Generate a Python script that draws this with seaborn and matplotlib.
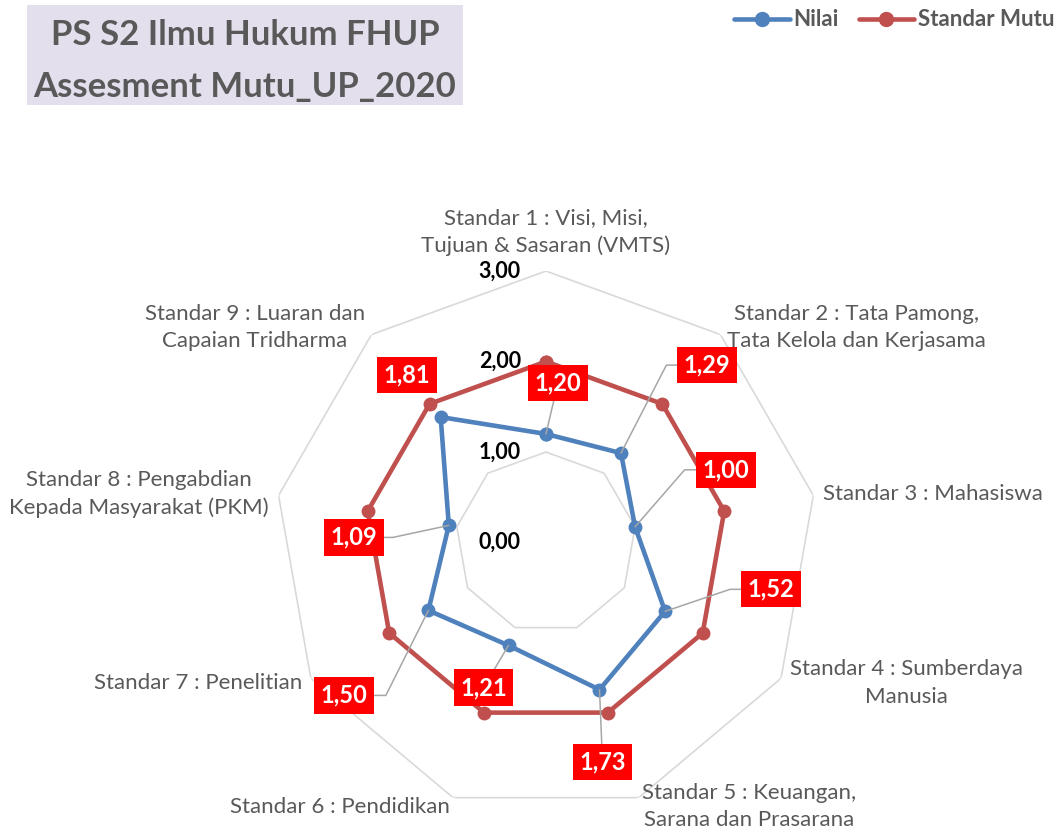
import numpy as np
import pandas as pd
import matplotlib.pyplot as plt
import seaborn as sns
from matplotlib.lines import Line2D
from matplotlib.patches import Rectangle

# ── Data ─────────────────────────────────────────────────────────────
categories = [
    "Standar 1 : Visi, Misi,\nTujuan & Sasaran (VMTS)",
    "Standar 2 : Tata Pamong,\nTata Kelola dan Kerjasama",
    "Standar 3 : Mahasiswa",
    "Standar 4 : Sumberdaya\nManusia",
    "Standar 5 : Keuangan,\nSarana dan Prasarana",
    "Standar 6 : Pendidikan",
    "Standar 7 : Penelitian",
    "Standar 8 : Pengabdian\nKepada Masyarakat (PKM)",
    "Standar 9 : Luaran dan\nCapaian Tridharma",
]
nilai = [1.20, 1.29, 1.00, 1.52, 1.73, 1.21, 1.50, 1.09, 1.81]
standar_mutu = [2.00, 2.00, 2.00, 2.00, 2.00, 2.00, 2.00, 2.00, 2.00]
ring_values = [0, 1, 2, 3]
ring_labels = ["0,00", "1,00", "2,00", "3,00"]
title = "PS S2 Ilmu Hukum FHUP\nAssesment Mutu_UP_2020"

# data label placement (pixel offset of the box from its point, leader bend angle)
label_offsets = [(12, 51), (86, 88), (91, 57), (106, 22), (3, -72),
                 (-25, -42), (-84, -85), (-95, -12), (-34, 42)]
leader_bend = [None, 62.7, 49, 18.7, None, None, -116.6, -167.9, None]
show_leader = [True, True, True, True, True, True, True, True, False]

BLUE = '#4F81BD'
RED = '#C0504D'
GREY_TXT = '#595959'

sns.set_theme(style='white')
plt.rcParams['font.family'] = ['Lato', 'DejaVu Sans']

fig = plt.figure(figsize=(10.56, 8.32), dpi=100)
ax = fig.add_axes([0.2599, 0.0216, 0.5142, 0.6526], projection='polar')
ax.set_theta_zero_location('N')
ax.set_theta_direction(-1)
ax.set_ylim(0, 3)
ax.set_xticks([])
ax.set_yticks([])
ax.grid(False)
ax.spines['polar'].set_visible(False)
ax.patch.set_alpha(0)

n = len(categories)
theta = np.arange(n) * 2 * np.pi / n
theta_c = np.append(theta, 2 * np.pi)

# polygon gridlines
for r in ring_values[1:]:
    ax.plot(theta_c, [r] * (n + 1), color='#D9D9D9', lw=1.2, zorder=1)

# ── Series ───────────────────────────────────────────────────────────
df = pd.DataFrame({
    'theta': np.concatenate([theta_c, theta_c]),
    'value': nilai + [nilai[0]] + standar_mutu + [standar_mutu[0]],
    'series': ['Nilai'] * (n + 1) + ['Standar Mutu'] * (n + 1),
})
sns.lineplot(data=df, x='theta', y='value', hue='series',
             palette={'Nilai': BLUE, 'Standar Mutu': RED},
             marker='o', markersize=10, markeredgewidth=0, linewidth=3.3,
             sort=False, estimator=None, legend=False, ax=ax, zorder=3)
ax.set_xlabel('')
ax.set_ylabel('')

# ── Radial value labels ──────────────────────────────────────────────
for r, lab in zip(ring_values, ring_labels):
    ax.annotate(lab, xy=(0, r), xytext=(-25, 0), textcoords='offset pixels',
                ha='right', va='center', fontsize=15.5, fontweight='bold',
                color='black', zorder=4)

# ── Category labels ──────────────────────────────────────────────────
for t, lab in zip(theta, categories):
    s, c = np.sin(t), np.cos(t)
    if abs(s) < 1e-6:
        ha, va, off = 'center', 'bottom', (0, 15)
    else:
        ha = 'left' if s > 0 else 'right'
        va = 'center'
        off = (10 * s, 9.5 * c)
    ax.annotate(lab, xy=(t, 3), xytext=off, textcoords='offset pixels',
                ha=ha, va=va, multialignment='center', fontsize=16,
                color=GREY_TXT, linespacing=1.45, annotation_clip=False)

# ── Data labels of "Nilai" ───────────────────────────────────────────
for i, v in enumerate(nilai):
    dx, dy = label_offsets[i]
    arrow = None
    if show_leader[i]:
        if leader_bend[i] is None:
            cs = 'arc3,rad=0'
        else:
            cs = f'angle,angleA=0,angleB={leader_bend[i]},rad=0'
        arrow = dict(arrowstyle='-', color='#A6A6A6', lw=1.1,
                     connectionstyle=cs, shrinkA=0, shrinkB=0)
    ax.annotate(f'{v:.2f}'.replace('.', ','), xy=(theta[i], v),
                xytext=(dx, dy), textcoords='offset pixels',
                ha='center', va='center', fontsize=17, fontweight='bold',
                color='white', zorder=6, arrowprops=arrow,
                bbox=dict(boxstyle='square,pad=0.28', fc='#FF0000', ec='none'))

# ── Title box ────────────────────────────────────────────────────────
fig.patches.append(Rectangle((27 / 1056, 1 - 105 / 832), 436 / 1056, 100 / 832,
                             transform=fig.transFigure, facecolor='#E4DFEC',
                             edgecolor='none', zorder=0))
fig.text(245 / 1056, 1 - 61 / 832, title, ha='center', va='center',
         fontsize=25, fontweight='bold', color=GREY_TXT, linespacing=1.75)

# ── Legend ───────────────────────────────────────────────────────────
handles = [Line2D([], [], color=BLUE, lw=3.3, marker='o', markersize=10),
           Line2D([], [], color=RED, lw=3.3, marker='o', markersize=10)]
fig.legend(handles, ['Nilai', 'Standar Mutu'], loc='center right',
           bbox_to_anchor=(1054 / 1056, 1 - 20 / 832), ncol=2, frameon=False,
           prop={'weight': 'bold', 'size': 16}, labelcolor=GREY_TXT,
           handlelength=2.5, handletextpad=0.15, columnspacing=0.9,
           borderaxespad=0, borderpad=0)

fig.savefig('out.png', dpi=100, facecolor='white')
